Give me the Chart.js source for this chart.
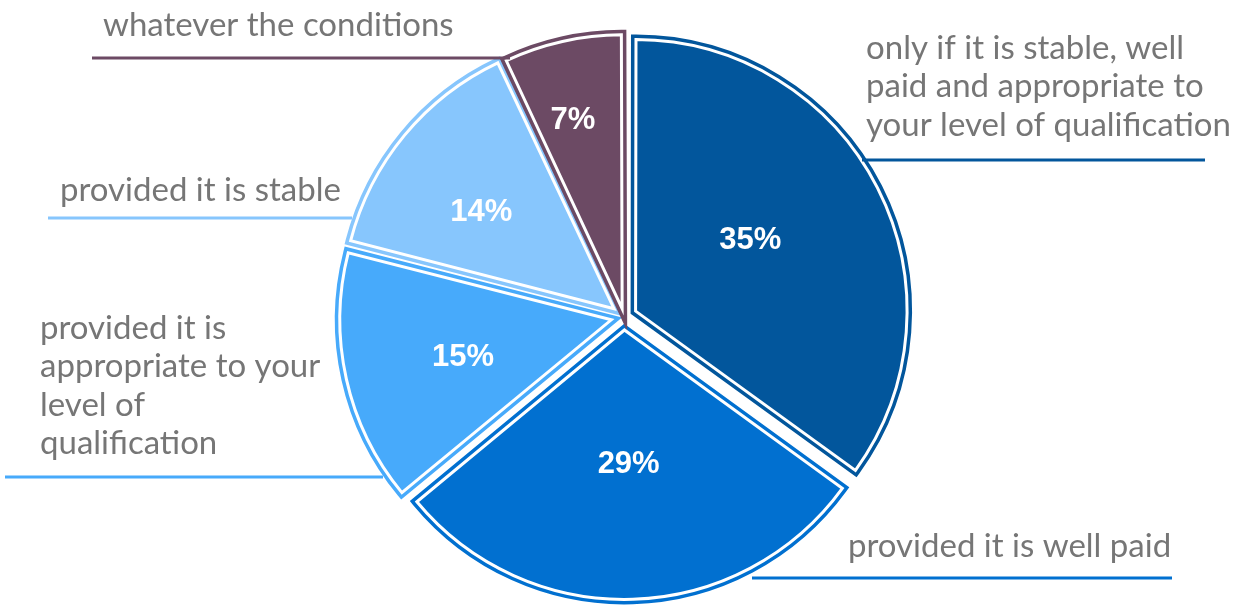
<!DOCTYPE html>
<html>
<head>
<meta charset="utf-8">
<script src="https://cdn.jsdelivr.net/npm/chart.js@4.4.1/dist/chart.umd.min.js"></script>
<style>
  body { margin: 0; background: #fff; }
  #wrap { width: 1239px; height: 607px; position: relative; }
</style>
</head>
<body>
<div id="wrap"><canvas id="chart"></canvas></div>
<script>
// Chart data
const categories = [
    ['only if it is stable, well', 'paid and appropriate to', 'your level of qualification'],
    ['provided it is well paid'],
    ['provided it is', 'appropriate to your', 'level of', 'qualification'],
    ['provided it is stable'],
    ['whatever the conditions']
];
const shares = [35, 29, 15, 14, 7];
const sliceColors = ['#02569c', '#0170d0', '#47aafb', '#87c6fd', '#6c4a64'];

// Callout placement for each category label (text anchor + underline)
const calloutLayout = [
    { x: 866, y: 48, line: [862, 1205, 160] },
    { x: 848, y: 546, line: [752, 1172, 578] },
    { x: 40, y: 328, line: [5, 383, 477] },
    { x: 60, y: 190, line: [48, 352, 218] },
    { x: 103, y: 25, line: [92, 510, 58] }
];
// Slice explosion (Chart.js moves a slice by offset / 4)
const sliceOffsets = [52, 52, 52, 52, 34];
// Percent label: distance from slice tip and small angle nudge (degrees)
const pctRadius = [135, 135, 153, 164, 195];
const pctNudge = [-4.8, 0, -1.5, -3.6, -2];

// Draws the coloured ring outside the white slice border
const outlinePlugin = {
    id: 'outline',
    beforeDatasetsDraw(chart) {
        const ctx = chart.ctx;
        chart.getDatasetMeta(0).data.forEach((arc, i) => {
            const orig = arc.options;
            arc.options = Object.assign({}, orig, {
                borderColor: sliceColors[i],
                borderWidth: 10,
                borderJoinStyle: 'miter'
            });
            arc.draw(ctx);
            arc.options = orig;
        });
    }
};

// Percent labels and callout texts
const labelPlugin = {
    id: 'labels',
    afterDatasetsDraw(chart) {
        const ctx = chart.ctx;
        const arcs = chart.getDatasetMeta(0).data;
        ctx.save();
        arcs.forEach((arc, i) => {
            const mid = (arc.startAngle + arc.endAngle) / 2;
            const off = (arc.options.offset || 0) / 4;
            const a = mid + pctNudge[i] * Math.PI / 180;
            const x = arc.x + Math.cos(mid) * off + Math.cos(a) * pctRadius[i];
            const y = arc.y + Math.sin(mid) * off + Math.sin(a) * pctRadius[i];
            ctx.fillStyle = '#ffffff';
            ctx.font = 'bold 31px "Liberation Sans", Arial, sans-serif';
            ctx.textAlign = 'center';
            ctx.textBaseline = 'middle';
            ctx.fillText(shares[i] + '%', x, y);
        });

        categories.forEach((lines, i) => {
            const c = calloutLayout[i];
            ctx.fillStyle = '#767676';
            ctx.font = '33px Lato, "Open Sans", sans-serif';
            ctx.textAlign = 'left';
            ctx.textBaseline = 'middle';
            lines.forEach((t, j) => ctx.fillText(t, c.x, c.y + j * 38.5));
            ctx.strokeStyle = sliceColors[i];
            ctx.lineWidth = 3;
            ctx.beginPath();
            ctx.moveTo(c.line[0], c.line[2]);
            ctx.lineTo(c.line[1], c.line[2]);
            ctx.stroke();
        });
        ctx.restore();
    }
};

new Chart(document.getElementById('chart'), {
    type: 'pie',
    data: {
        labels: categories.map(l => l.join(' ')),
        datasets: [{
            data: shares,
            backgroundColor: sliceColors,
            borderColor: '#ffffff',
            borderWidth: 3,
            borderJoinStyle: 'miter',
            offset: sliceOffsets
        }]
    },
    options: {
        responsive: true,
        maintainAspectRatio: false,
        animation: false,
        radius: 269,
        layout: { padding: { left: 9, top: 27, right: 0, bottom: 0 } },
        plugins: {
            legend: { display: false },
            tooltip: { enabled: false }
        }
    },
    plugins: [outlinePlugin, labelPlugin]
});
</script>
</body>
</html>
